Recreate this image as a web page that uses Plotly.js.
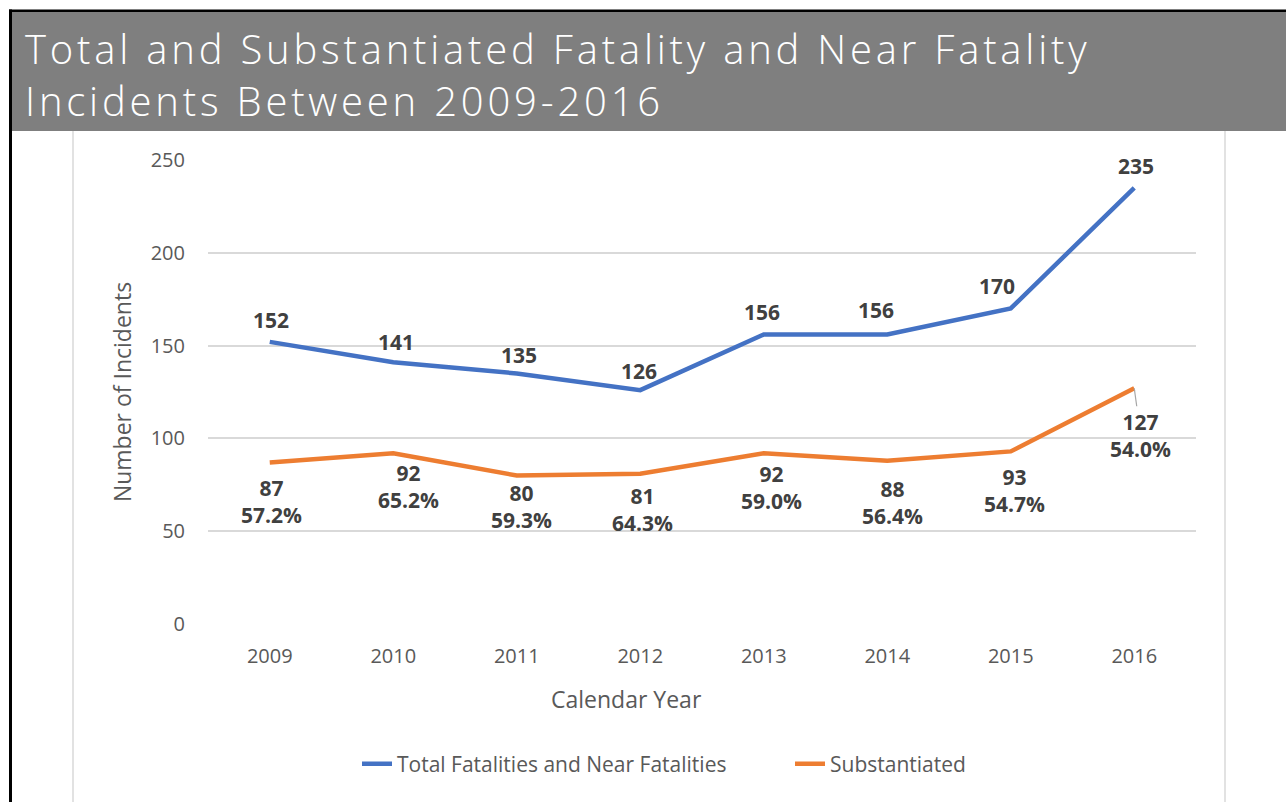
<!DOCTYPE html>
<html>
<head>
<meta charset="utf-8">
<script src="https://cdn.plot.ly/plotly-3.0.1.min.js"></script>
<style>html,body{margin:0;padding:0;background:#fff;}#chart{width:1286px;height:802px;}
.gtitle{letter-spacing:3.8px;}</style>
</head>
<body>
<div id="chart"></div>
<script>
// ---- data ----
const years = [2009, 2010, 2011, 2012, 2013, 2014, 2015, 2016];
const totalIncidents = [152, 141, 135, 126, 156, 156, 170, 235];
const substantiated = [87, 92, 80, 81, 92, 88, 93, 127];
const substantiatedPct = ['57.2%', '65.2%', '59.3%', '64.3%', '59.0%', '56.4%', '54.7%', '54.0%'];
const seriesNames = ['Total Fatalities and Near Fatalities', 'Substantiated'];
const yTicks = [0, 50, 100, 150, 200, 250];

// ---- style / layout ----
const W = 1286, H = 802;
const PL = 208, PR = 1196, PT = 160, PB = 624;
const px = v => (v - PL) / (PR - PL);
const py = v => (PB - v) / (PB - PT);
const blue = '#4472C4', orange = '#ED7D31';
const labelColor = '#404040', tickColor = '#595959';
const FONT = 'Open Sans, sans-serif';

// label offsets in px: [dx, dy(up)]
const totalLabelShift = [[1,22],[3,20],[2,18],[-1,19],[-2,22],[-11,24],[-14,22],[2,22]];
const subLabelShift = [[2,-39],[15,-33],[5,-31],[2,-36],[8,-34],[5,-42],[4,-39],[6.5,-47]];

const traces = [
  {x: years, y: totalIncidents, name: seriesNames[0], type: 'scatter', mode: 'lines',
   line: {color: blue, width: 4.5}, hoverinfo: 'x+y'},
  {x: years, y: substantiated, name: seriesNames[1], type: 'scatter', mode: 'lines',
   line: {color: orange, width: 4.5}, hoverinfo: 'x+y'}
];

const annotations = [];
years.forEach((yr, i) => {
  annotations.push({x: yr, y: totalIncidents[i], xref: 'x', yref: 'y', text: String(totalIncidents[i]),
    showarrow: false, xshift: totalLabelShift[i][0], yshift: totalLabelShift[i][1],
    font: {family: FONT, size: 21, color: labelColor, weight: 700}});
  const last = i === years.length - 1;
  const a = {x: yr, y: substantiated[i], xref: 'x', yref: 'y',
    text: substantiated[i] + '<br>' + substantiatedPct[i],
    font: {family: FONT, size: 21, color: labelColor, weight: 700}};
  if (last) {
    Object.assign(a, {showarrow: true, arrowhead: 0, arrowwidth: 1.2, arrowcolor: '#A6A6A6',
      ax: subLabelShift[i][0], ay: -subLabelShift[i][1], standoff: 0, startstandoff: 0});
  } else {
    Object.assign(a, {showarrow: false, xshift: subLabelShift[i][0], yshift: subLabelShift[i][1]});
  }
  annotations.push(a);
});
annotations.push({text: 'Calendar Year', xref: 'paper', yref: 'paper', x: px(626), y: py(699),
  showarrow: false, xanchor: 'center', yanchor: 'middle',
  font: {family: FONT, size: 23, color: tickColor}});

const shapes = [
  {type: 'rect', xref: 'paper', yref: 'paper', x0: px(12), x1: px(W), y0: py(12), y1: py(131),
   fillcolor: '#7F7F7F', line: {width: 0}, layer: 'below'},
  {type: 'rect', xref: 'paper', yref: 'paper', x0: px(9), x1: px(W), y0: py(9.5), y1: py(12),
   fillcolor: '#000000', line: {width: 0}, layer: 'below'},
  {type: 'rect', xref: 'paper', yref: 'paper', x0: px(9), x1: px(12), y0: py(9.5), y1: py(H),
   fillcolor: '#000000', line: {width: 0}, layer: 'below'},
  {type: 'line', xref: 'paper', yref: 'paper', x0: px(73), x1: px(73), y0: py(131), y1: py(H),
   line: {color: '#D9D9D9', width: 1.5}, layer: 'below'},
  {type: 'line', xref: 'paper', yref: 'paper', x0: px(1225), x1: px(1225), y0: py(131), y1: py(H),
   line: {color: '#D9D9D9', width: 1.5}, layer: 'below'}
];

const layout = {
  width: W, height: H,
  margin: {l: PL, r: W - PR, t: PT, b: H - PB, pad: 0},
  paper_bgcolor: '#ffffff', plot_bgcolor: '#ffffff',
  font: {family: FONT, color: tickColor},
  title: {text: 'Total and Substantiated Fatality and Near Fatality<br>Incidents Between 2009-2016',
    xref: 'container', yref: 'container', x: 25 / W, xanchor: 'left', y: 1 - 64 / H, yanchor: 'middle',
    font: {family: FONT, size: 40, color: '#ffffff', weight: 300}},
  xaxis: {range: [2008.5, 2016.5], tickvals: years, ticktext: years.map(String), showgrid: false,
    zeroline: false, showline: false, ticks: '', ticklabelstandoff: 18,
    tickfont: {family: FONT, size: 20, color: tickColor}, fixedrange: true},
  yaxis: {range: [0, 250], tickvals: yTicks, showgrid: true, gridcolor: '#D9D9D9', gridwidth: 1.5,
    zeroline: false, showline: false, ticks: '', ticklabelstandoff: 22,
    tickfont: {family: FONT, size: 20, color: tickColor}, fixedrange: true,
    title: {text: 'Number of Incidents', standoff: 12, font: {family: FONT, size: 23, color: tickColor}}},
  showlegend: true,
  legend: {orientation: 'h', xref: 'container', yref: 'container', x: 357 / W, y: 1 - 764 / H,
    xanchor: 'left', yanchor: 'middle', font: {family: FONT, size: 21, color: tickColor},
    entrywidth: 388, bgcolor: 'rgba(0,0,0,0)'},
  annotations: annotations,
  shapes: shapes
};

Plotly.newPlot('chart', traces, layout, {displayModeBar: false, responsive: false});
</script>
</body>
</html>
